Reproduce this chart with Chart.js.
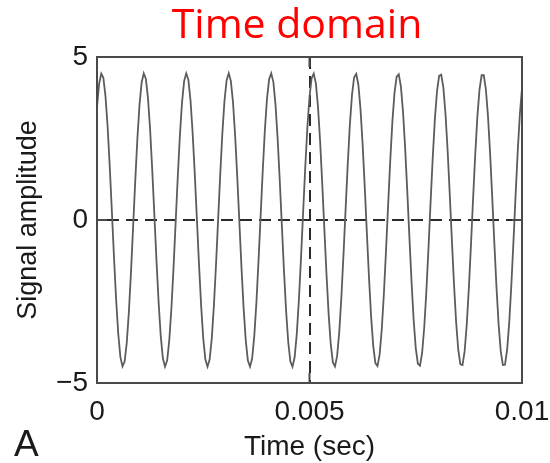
<!DOCTYPE html>
<html>
<head>
<meta charset="utf-8">
<script src="https://cdn.jsdelivr.net/npm/chart.js@4/dist/chart.umd.min.js"></script>
<style>
  html, body { margin: 0; padding: 0; background: #ffffff; }
  #wrap { width: 550px; height: 463px; position: relative; }
</style>
</head>
<body>
<div id="wrap"><canvas id="c" width="550" height="463"></canvas></div>
<script>
// ---- data ----
const chartTitle = 'Time domain';
const panelLetter = 'A';
const xAxisTitle = 'Time (sec)';
const yAxisTitle = 'Signal amplitude';
const startTime = 0;           // s
const sampleInterval = 0.00005; // s between readings
const amplitudes = [
  3.46, 4.18, 4.49, 4.36, 3.79, 2.86, 1.64, 0.26, -1.15, -2.44, -3.49, -4.20, -4.49, -4.34, -3.77, -2.82, -1.59, -0.20, 1.20, 2.49,
  3.53, 4.22, 4.50, 4.33, 3.73, 2.77, 1.53, 0.15, -1.26, -2.53, -3.56, -4.24, -4.50, -4.31, -3.70, -2.73, -1.48, -0.09, 1.31, 2.58,
  3.60, 4.26, 4.50, 4.30, 3.67, 2.68, 1.43, 0.04, -1.36, -2.62, -3.63, -4.28, -4.50, -4.28, -3.64, -2.64, -1.38, 0.02, 1.41, 2.67,
  3.66, 4.29, 4.50, 4.26, 3.61, 2.59, 1.33, -0.07, -1.47, -2.71, -3.69, -4.31, -4.50, -4.25, -3.57, -2.55, -1.27, 0.13, 1.52, 2.76,
  3.72, 4.32, 4.50, 4.23, 3.54, 2.50, 1.22, -0.18, -1.57, -2.80, -3.75, -4.34, -4.50, -4.21, -3.51, -2.46, -1.17, 0.24, 1.62, 2.84,
  3.78, 4.35, 4.49, 4.19, 3.47, 2.41, 1.11, -0.29, -1.67, -2.88, -3.81, -4.37, -4.49, -4.17, -3.44, -2.37, -1.06, 0.35, 1.72, 2.93,
  3.84, 4.38, 4.48, 4.15, 3.40, 2.32, 1.01, -0.40, -1.77, -2.97, -3.87, -4.39, -4.48, -4.13, -3.36, -2.27, -0.95, 0.46, 1.82, 3.01,
  3.90, 4.40, 4.47, 4.10, 3.33, 2.22, 0.90, -0.51, -1.87, -3.05, -3.93, -4.41, -4.47, -4.08, -3.29, -2.18, -0.85, 0.57, 1.92, 3.09,
  3.95, 4.42, 4.46, 4.06, 3.25, 2.13, 0.79, -0.62, -1.97, -3.13, -3.98, -4.43, -4.45, -4.03, -3.21, -2.08, -0.74, 0.68, 2.02, 3.17,
  4.00, 4.44, 4.44, 4.01, 3.18, 2.03, 0.68, -0.73, -2.07, -3.21, -4.03, -4.45, -4.44, -3.98, -3.14, -1.98, -0.63, 0.78, 2.12, 3.25,
  4.05
];
const xTickValues = [0, 0.005, 0.01];
const xTickLabels = ['0', '0.005', '0.01'];
const yTickValues = [-5, 0, 5];
const yTickLabels = ['\u22125', '0', '5'];
const xRange = [0, 0.01];
const yRange = [-5, 5];
const refTime = 0.005;   // dashed vertical line
const refLevel = 0;      // dashed horizontal line

// ---- build dataset ----
const points = amplitudes.map((v, i) => ({ x: startTime + i * sampleInterval, y: v }));

const axisFont = { family: '"Liberation Sans", Arial, sans-serif', size: 28 };

const decorPlugin = {
  id: 'decor',
  beforeDatasetsDraw(chart) {
    const { ctx, chartArea: a, scales: { x, y } } = chart;
    ctx.save();
    ctx.strokeStyle = '#2a2a2a';
    ctx.lineWidth = 2;
    ctx.setLineDash([12, 7]);
    const y0 = Math.round(y.getPixelForValue(refLevel));
    const x0 = Math.round(x.getPixelForValue(refTime));
    ctx.beginPath(); ctx.moveTo(a.left + 10, y0); ctx.lineTo(a.right, y0); ctx.stroke();
    ctx.beginPath(); ctx.moveTo(x0, a.top); ctx.lineTo(x0, a.bottom); ctx.stroke();
    ctx.restore();
  },
  afterDatasetsDraw(chart) {
    const { ctx, chartArea: a, scales: { x, y } } = chart;
    ctx.save();
    ctx.strokeStyle = '#4a4a4a';
    ctx.lineWidth = 2;
    ctx.setLineDash([]);
    ctx.strokeRect(a.left, a.top, a.right - a.left, a.bottom - a.top);
    const tl = 10;
    ctx.beginPath();
    xTickValues.forEach(v => {
      const px = x.getPixelForValue(v);
      ctx.moveTo(px, a.bottom); ctx.lineTo(px, a.bottom - tl);
      ctx.moveTo(px, a.top); ctx.lineTo(px, a.top + tl);
    });
    yTickValues.forEach(v => {
      const py = y.getPixelForValue(v);
      ctx.moveTo(a.left, py); ctx.lineTo(a.left + tl, py);
      ctx.moveTo(a.right, py); ctx.lineTo(a.right - tl, py);
    });
    ctx.stroke();
    ctx.restore();
  },
  afterDraw(chart) {
    const { ctx } = chart;
    ctx.save();
    ctx.fillStyle = '#ff0000';
    ctx.font = '41px "Open Sans", "Noto Sans", sans-serif';
    ctx.textAlign = 'center';
    ctx.textBaseline = 'alphabetic';
    ctx.fillText(chartTitle, 297, 38);
    ctx.fillStyle = '#1a1a1a';
    ctx.font = '37px "Liberation Sans", Arial, sans-serif';
    ctx.textAlign = 'left';
    ctx.fillText(panelLetter, 14, 456);
    ctx.restore();
  }
};

new Chart(document.getElementById('c'), {
  type: 'line',
  data: {
    datasets: [{
      data: points,
      borderColor: '#5c5c5c',
      borderWidth: 1.8,
      pointRadius: 0,
      tension: 0,
      fill: false
    }]
  },
  options: {
    responsive: false,
    animation: false,
    events: [],
    layout: { padding: { left: 0, right: 28, top: 57, bottom: 0 } },
    plugins: { legend: { display: false }, tooltip: { enabled: false }, title: { display: false } },
    scales: {
      x: {
        type: 'linear',
        min: xRange[0], max: xRange[1],
        afterBuildTicks: s => { s.ticks = xTickValues.map(v => ({ value: v })); },
        afterFit: s => { s.height = 80; s.paddingLeft = 0; s.paddingRight = 0; },
        grid: { display: false, drawTicks: false },
        border: { display: false },
        ticks: {
          padding: 12,
          color: '#1a1a1a',
          font: axisFont,
          maxRotation: 0,
          autoSkip: false,
          callback: (v) => { const i = xTickValues.indexOf(v); return i >= 0 ? xTickLabels[i] : ''; }
        },
        title: {
          display: true, text: xAxisTitle, color: '#1a1a1a',
          font: { family: axisFont.family, size: 28, lineHeight: 1 },
          padding: { top: 0, bottom: 2 }
        }
      },
      y: {
        type: 'linear',
        min: yRange[0], max: yRange[1],
        afterBuildTicks: s => { s.ticks = yTickValues.map(v => ({ value: v })); },
        afterFit: s => { s.width = 97; s.paddingTop = 0; s.paddingBottom = 0; },
        grid: { display: false, drawTicks: false },
        border: { display: false },
        ticks: {
          padding: 9,
          color: '#1a1a1a',
          font: axisFont,
          autoSkip: false,
          callback: (v) => { const i = yTickValues.indexOf(v); return i >= 0 ? yTickLabels[i] : ''; }
        },
        title: {
          display: true, text: yAxisTitle, color: '#1a1a1a',
          font: { family: axisFont.family, size: 27, lineHeight: 1.2 },
          padding: { top: 12, bottom: 0 }
        }
      }
    }
  },
  plugins: [decorPlugin]
});
</script>
</body>
</html>
